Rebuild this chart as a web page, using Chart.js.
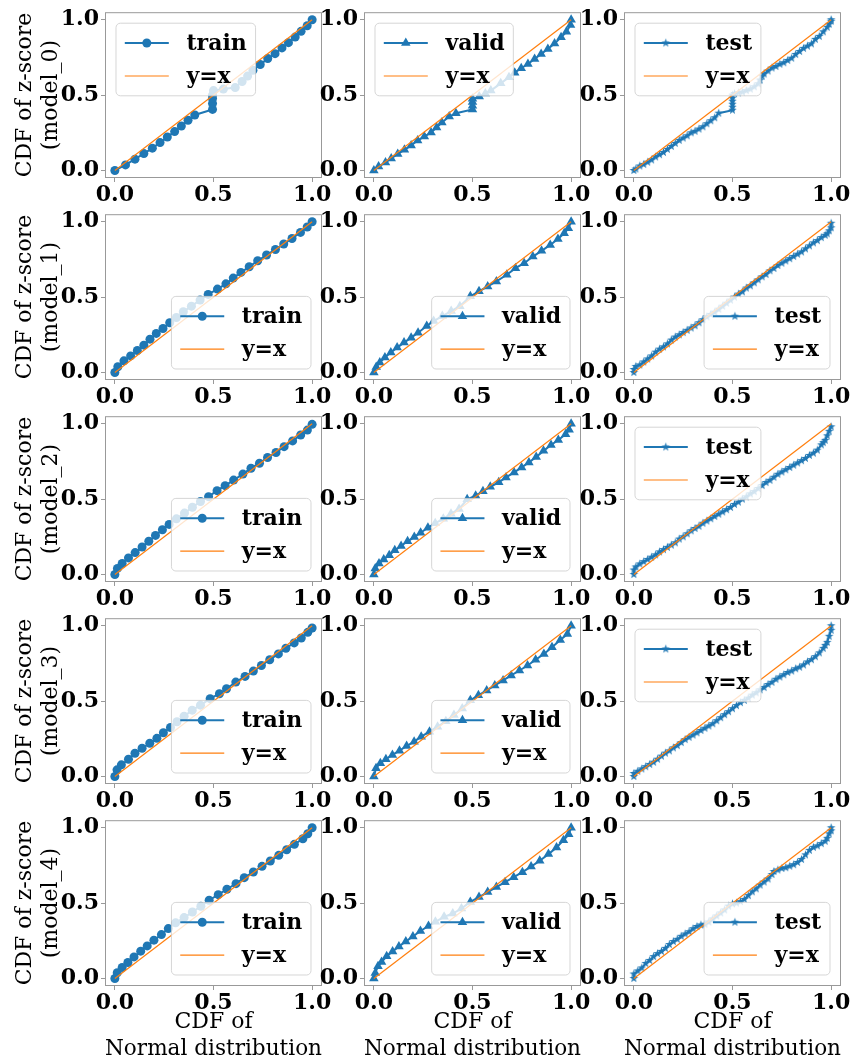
<!DOCTYPE html>
<html>
<head>
<meta charset="utf-8">
<script src="https://cdn.jsdelivr.net/npm/chart.js@4.4.0/dist/chart.umd.min.js"></script>
<style>
  body { margin: 0; background: #fff; }
  #wrap { position: relative; width: 858px; height: 1060px; overflow: hidden; background: #fff; }
  #wrap canvas { position: absolute; }
</style>
</head>
<body>
<div id="wrap"></div>
<script>
// ---- data ----
const tickValues = [0, 0.5, 1.0];
const modelNames = ['model_0', 'model_1', 'model_2', 'model_3', 'model_4'];
const splitNames = ['train', 'valid', 'test'];
const diagX = [0, 1];
const diagY = [0, 1];

// model_0
const m0TrainX = [0, .054, .102, .147, .19, .229, .266, .303, .337, .371, .405, .495, .495, .495, .495, .50, .55, .61, .645, .673, .70, .737, .775, .812, .847, .88, .914, .944, .975, 1];
const m0TrainY = [0, .037, .075, .112, .148, .185, .222, .258, .295, .333, .368, .405, .445, .478, .50, .53, .54, .55, .59, .626, .665, .703, .742, .775, .813, .848, .885, .923, .96, 1];
const m0ValidX = [0, .024, .059, .088, .121, .155, .189, .222, .256, .29, .318, .345, .382, .416, .5, .5, .5, .5, .534, .565, .593, .643, .685, .714, .747, .781, .815, .848, .882, .916, .949, .976, .997, 1];
const m0ValidY = [0, .026, .053, .08, .11, .137, .166, .199, .225, .252, .285, .318, .358, .38, .405, .43, .455, .475, .49, .51, .53, .578, .618, .649, .678, .706, .74, .773, .806, .843, .883, .92, .965, 1];
const m0TestX = [0, .01, .03, .05, .07, .09, .11, .13, .15, .17, .19, .21, .23, .25, .27, .29, .31, .33, .35, .37, .39, .41, .43, .50, .50, .50, .50, .50, .50, .51, .53, .55, .57, .59, .61, .63, .64, .65, .66, .68, .70, .72, .74, .76, .78, .80, .82, .84, .86, .88, .90, .92, .94, .96, .98, .99, 1, 1];
const m0TestY = [0, .01, .03, .04, .055, .07, .09, .105, .12, .14, .16, .18, .20, .215, .23, .25, .26, .275, .29, .31, .33, .35, .38, .40, .42, .44, .46, .48, .50, .51, .515, .52, .53, .54, .555, .575, .60, .625, .64, .66, .68, .69, .705, .715, .73, .745, .77, .79, .81, .825, .84, .87, .89, .92, .95, .97, .99, 1];

// model_1
const m1TrainX = [0, .015, .046, .08, .114, .147, .178, .21, .244, .278, .312, .347, .388, .432, .473, .52, .563, .6, .639, .681, .724, .769, .814, .856, .898, .941, .975, 1];
const m1TrainY = [0, .038, .077, .11, .146, .181, .221, .259, .292, .33, .365, .403, .44, .48, .518, .553, .588, .626, .664, .701, .741, .779, .816, .852, .889, .929, .965, 1];
const m1ValidX = [0, .012, .03, .056, .086, .118, .153, .189, .224, .268, .303, .347, .392, .436, .489, .533, .577, .621, .674, .718, .762, .806, .85, .894, .933, .965, .986, 1];
const m1ValidY = [0, .037, .066, .099, .132, .165, .198, .231, .264, .308, .341, .374, .407, .44, .505, .538, .571, .604, .648, .692, .725, .769, .807, .846, .886, .923, .956, 1];
const m1TestX = [0, 0, .01, .03, .05, .07, .09, .11, .13, .15, .17, .19, .21, .23, .25, .27, .29, .31, .33, .35, .37, .39, .41, .43, .45, .47, .49, .51, .53, .55, .57, .59, .61, .63, .65, .67, .69, .71, .73, .75, .77, .79, .81, .83, .85, .87, .89, .91, .93, .95, .97, .98, .99, 1, 1];
const m1TestY = [0, .02, .04, .05, .07, .09, .11, .135, .155, .17, .19, .215, .235, .25, .265, .28, .295, .31, .33, .35, .37, .385, .40, .42, .44, .46, .48, .50, .52, .535, .56, .575, .595, .615, .635, .65, .675, .69, .71, .725, .74, .755, .77, .785, .80, .82, .84, .86, .875, .895, .91, .92, .94, .96, .99];

// model_2
const m2TrainX = [0, .013, .037, .069, .103, .138, .172, .206, .241, .275, .312, .353, .393, .434, .475, .518, .559, .602, .649, .69, .733, .774, .817, .858, .901, .942, .976, 1];
const m2TrainY = [0, .04, .073, .11, .145, .182, .22, .259, .297, .332, .369, .407, .446, .484, .516, .556, .589, .626, .666, .705, .738, .776, .809, .848, .886, .925, .958, .996];
const m2ValidX = [0, .007, .026, .05, .078, .106, .138, .171, .205, .237, .274, .311, .352, .391, .432, .473, .516, .553, .59, .633, .67, .711, .749, .786, .823, .86, .898, .935, .972, .99, 1];
const m2ValidY = [0, .04, .073, .10, .127, .16, .189, .22, .248, .277, .31, .34, .369, .402, .435, .499, .523, .552, .582, .611, .644, .677, .71, .743, .78, .82, .859, .892, .93, .96, 1];
const m2TestX = [0, 0, .01, .03, .05, .07, .09, .11, .13, .15, .17, .19, .21, .23, .25, .27, .29, .31, .33, .35, .37, .39, .41, .43, .45, .47, .49, .51, .53, .55, .57, .59, .61, .63, .65, .67, .69, .71, .73, .75, .77, .79, .81, .83, .85, .87, .89, .91, .93, .95, .96, .97, .98, .99, 1];
const m2TestY = [0, .03, .05, .07, .085, .10, .115, .13, .15, .165, .18, .195, .21, .235, .25, .27, .29, .305, .32, .34, .355, .37, .385, .40, .415, .43, .445, .465, .48, .50, .515, .535, .55, .57, .59, .61, .625, .645, .665, .68, .695, .71, .725, .74, .755, .77, .79, .805, .825, .86, .875, .89, .92, .95, .98];

// model_3
const m3TrainX = [0, .011, .033, .069, .102, .138, .177, .213, .246, .282, .315, .351, .392, .434, .483, .53, .566, .613, .66, .702, .743, .785, .829, .867, .909, .945, .978, 1];
const m3TrainY = [0, .044, .077, .114, .154, .187, .22, .253, .29, .325, .363, .40, .44, .473, .516, .549, .582, .626, .664, .699, .736, .774, .813, .851, .886, .919, .956, .985];
const m3ValidX = [0, .011, .033, .061, .094, .13, .166, .204, .24, .282, .323, .365, .406, .448, .489, .53, .572, .613, .655, .696, .738, .779, .82, .862, .903, .945, .981, 1];
const m3ValidY = [0, .055, .088, .114, .143, .171, .202, .231, .264, .297, .33, .367, .407, .451, .505, .538, .571, .604, .637, .67, .703, .736, .774, .813, .857, .905, .945, 1];
const m3TestX = [0, 0, .02, .04, .06, .08, .10, .12, .14, .16, .18, .20, .22, .24, .26, .28, .30, .32, .34, .36, .38, .40, .42, .44, .46, .48, .50, .52, .54, .56, .58, .60, .62, .64, .66, .68, .70, .72, .74, .76, .78, .80, .82, .84, .86, .88, .90, .92, .94, .96, .97, .98, .99, 1, 1];
const m3TestY = [0, .02, .035, .05, .065, .08, .095, .115, .135, .155, .17, .19, .205, .225, .245, .26, .275, .29, .305, .32, .335, .35, .37, .39, .41, .43, .45, .47, .49, .505, .52, .54, .555, .575, .59, .61, .625, .645, .66, .675, .69, .70, .715, .725, .74, .76, .775, .795, .82, .85, .87, .89, .93, .97, 1];

// model_4
const m4TrainX = [0, .012, .037, .066, .097, .131, .164, .198, .236, .271, .308, .351, .393, .436, .478, .524, .568, .614, .656, .702, .746, .788, .831, .871, .91, .953, .978, 1];
const m4TrainY = [0, .038, .073, .106, .143, .181, .216, .254, .291, .331, .369, .404, .441, .479, .519, .556, .592, .629, .669, .706, .744, .779, .817, .854, .89, .927, .96, 1];
const m4ValidX = [0, .007, .021, .039, .065, .095, .127, .162, .198, .236, .277, .312, .356, .40, .444, .489, .533, .577, .621, .665, .709, .753, .797, .841, .885, .926, .961, .988, 1];
const m4ValidY = [0, .037, .081, .109, .147, .179, .212, .245, .278, .315, .348, .376, .409, .431, .464, .508, .54, .573, .606, .639, .672, .705, .742, .781, .825, .869, .917, .956, 1];
const m4TestX = [0, 0, .02, .04, .06, .08, .10, .12, .14, .16, .18, .20, .22, .24, .26, .28, .30, .32, .34, .36, .38, .40, .42, .44, .46, .48, .50, .52, .54, .56, .58, .60, .62, .64, .66, .68, .70, .71, .73, .75, .77, .79, .81, .83, .85, .87, .89, .91, .93, .95, .97, .98, .99, 1, 1];
const m4TestY = [0, .03, .05, .07, .10, .12, .145, .165, .18, .20, .225, .245, .26, .28, .295, .31, .33, .345, .355, .36, .375, .395, .415, .435, .455, .48, .495, .50, .51, .525, .55, .575, .595, .62, .64, .66, .69, .71, .72, .73, .735, .745, .755, .77, .79, .82, .85, .87, .88, .895, .91, .93, .96, .98, 1];

const seriesX = [
  [m0TrainX, m0ValidX, m0TestX],
  [m1TrainX, m1ValidX, m1TestX],
  [m2TrainX, m2ValidX, m2TestX],
  [m3TrainX, m3ValidX, m3TestX],
  [m4TrainX, m4ValidX, m4TestX]
];
const seriesY = [
  [m0TrainY, m0ValidY, m0TestY],
  [m1TrainY, m1ValidY, m1TestY],
  [m2TrainY, m2ValidY, m2TestY],
  [m3TrainY, m3ValidY, m3TestY],
  [m4TrainY, m4ValidY, m4TestY]
];

// ---- layout / style ----
const blue = '#1f77b4';
const orange = '#ff7f0e';
const colLeft = [105, 364, 624];
const rowTop = [11, 213, 415, 617, 819];
const boxW = 217, boxH = 167;
const padTop = 14, padRight = 26;
const legendCorner = [
  ['ul', 'ul', 'ul'],
  ['lr', 'lr', 'lr'],
  ['lr', 'lr', 'ul'],
  ['lr', 'lr', 'ul'],
  ['lr', 'lr', 'lr']
];
const FS = 22;
const tickFont = { family: 'DejaVu Serif', size: FS, weight: 'bold' };
const titleFont = { family: 'DejaVu Serif', size: FS, weight: 'normal' };

function starImage(r, color) {
  const c = document.createElement('canvas');
  const s = Math.ceil(r * 2 + 2);
  c.width = c.height = s;
  const g = c.getContext('2d');
  g.beginPath();
  for (let i = 0; i < 10; i++) {
    const rr = i % 2 ? r * 0.4 : r;
    const a = -Math.PI / 2 + i * Math.PI / 5;
    g.lineTo(s / 2 + rr * Math.cos(a), s / 2 + rr * Math.sin(a));
  }
  g.closePath();
  g.fillStyle = color;
  g.fill();
  return c;
}
const star = starImage(4.5, blue);
const markerStyle = ['circle', 'triangle', star];
const markerRadius = [4.5, 5.5, 4.5];

// legend drawn inside the axes, over the data
const insideLegend = {
  id: 'insideLegend',
  afterDatasetsDraw(chart, args, opts) {
    const ctx = chart.ctx, a = chart.chartArea;
    ctx.save();
    ctx.font = 'bold ' + FS + 'px "DejaVu Serif"';
    const sets = chart.data.datasets;
    const tw = Math.max(...sets.map(d => ctx.measureText(d.label).width));
    const pad = 0.4 * FS, hl = 2 * FS, hp = 0.8 * FS, rowH = FS, sp = 0.5 * FS, inset = 0.5 * FS;
    const w = pad + hl + hp + tw + pad;
    const h = pad * 2 + rowH * 2 + sp;
    const x = opts.corner === 'ul' ? a.left + inset : a.right - inset - w;
    const y = opts.corner === 'ul' ? a.top + inset : a.bottom - inset - h;
    ctx.beginPath();
    ctx.roundRect(x, y, w, h, 0.2 * FS);
    ctx.fillStyle = 'rgba(255,255,255,0.8)';
    ctx.fill();
    ctx.strokeStyle = 'rgba(204,204,204,0.8)';
    ctx.lineWidth = 1;
    ctx.stroke();
    sets.forEach((d, i) => {
      const cy = y + pad + rowH / 2 + i * (rowH + sp);
      ctx.beginPath();
      ctx.moveTo(x + pad, cy);
      ctx.lineTo(x + pad + hl, cy);
      ctx.strokeStyle = d.borderColor;
      ctx.lineWidth = d.borderWidth;
      ctx.stroke();
      if (d.pointRadius > 0) {
        ctx.fillStyle = d.pointBackgroundColor;
        ctx.strokeStyle = d.pointBackgroundColor;
        Chart.helpers.drawPoint(ctx, { pointStyle: d.pointStyle, radius: d.pointRadius, rotation: 0, borderWidth: 0 }, x + pad + hl / 2, cy);
      }
      ctx.fillStyle = '#000';
      ctx.textBaseline = 'middle';
      ctx.textAlign = 'left';
      ctx.fillText(d.label, x + pad + hl + hp, cy + 1);
    });
    ctx.restore();
  }
};

const frame = {
  id: 'frame',
  afterDraw(chart) {
    const { ctx, chartArea: a } = chart;
    ctx.save();
    ctx.strokeStyle = '#999';
    ctx.lineWidth = 1;
    ctx.strokeRect(a.left + 0.5, a.top + 0.5, a.right - a.left - 1, a.bottom - a.top - 1);
    ctx.restore();
  }
};

const wrap = document.getElementById('wrap');

for (let r = 0; r < 5; r++) {
  for (let c = 0; c < 3; c++) {
    const yW = c === 0 ? 105 : 52;
    const xH = r === 4 ? 1060 - (rowTop[4] + boxH) : 30;
    const cv = document.createElement('canvas');
    const W = yW + boxW + padRight, H = padTop + boxH + xH;
    cv.width = W; cv.height = H;
    cv.style.width = W + 'px'; cv.style.height = H + 'px';
    cv.style.left = (colLeft[c] - yW) + 'px';
    cv.style.top = (rowTop[r] - padTop) + 'px';
    wrap.appendChild(cv);

    const xs = seriesX[r][c], ys = seriesY[r][c];
    const pts = xs.map((v, i) => ({ x: v, y: ys[i] }));
    const diag = diagX.map((v, i) => ({ x: v, y: diagY[i] }));

    new Chart(cv, {
      type: 'scatter',
      data: {
        datasets: [{
          label: splitNames[c],
          data: pts,
          showLine: true,
          borderColor: blue,
          borderWidth: 2,
          pointStyle: markerStyle[c],
          pointRadius: markerRadius[c],
          pointBackgroundColor: blue,
          pointBorderWidth: 0,
          order: 1
        }, {
          label: 'y=x',
          data: diag,
          showLine: true,
          borderColor: orange,
          borderWidth: 1.2,
          pointRadius: 0,
          order: 0
        }]
      },
      options: {
        responsive: false,
        animation: false,
        devicePixelRatio: 1,
        layout: { padding: { top: padTop, right: padRight, left: 0, bottom: 0 } },
        plugins: {
          legend: { display: false },
          tooltip: { enabled: false },
          insideLegend: { corner: legendCorner[r][c] }
        },
        scales: {
          x: {
            type: 'linear', min: -0.05, max: 1.05,
            afterBuildTicks: s => { s.ticks = tickValues.map(v => ({ value: v })); },
            afterFit: s => { s.height = xH; },
            ticks: { font: tickFont, color: '#000', padding: 0, autoSkip: false, maxRotation: 0, minRotation: 0, callback: v => v.toFixed(1) },
            grid: { drawOnChartArea: false, drawTicks: true, tickLength: 4, color: '#999' },
            border: { display: false },
            title: r === 4
              ? { display: true, text: ['CDF of', 'Normal distribution'], font: titleFont, color: '#000', padding: { top: 0, bottom: -2 } }
              : { display: false }
          },
          y: {
            type: 'linear', min: -0.05, max: 1.05,
            afterBuildTicks: s => { s.ticks = tickValues.map(v => ({ value: v })); },
            afterFit: s => { s.width = yW; },
            ticks: { font: tickFont, color: '#000', padding: 2, autoSkip: false, callback: v => v.toFixed(1) },
            grid: { drawOnChartArea: false, drawTicks: true, tickLength: 4, color: '#999' },
            border: { display: false },
            title: c === 0
              ? { display: true, text: ['CDF of z-score', '(' + modelNames[r] + ')'], font: titleFont, color: '#000', padding: { top: 12, bottom: 0 } }
              : { display: false }
          }
        }
      },
      plugins: [insideLegend, frame]
    });
  }
}
</script>
</body>
</html>
